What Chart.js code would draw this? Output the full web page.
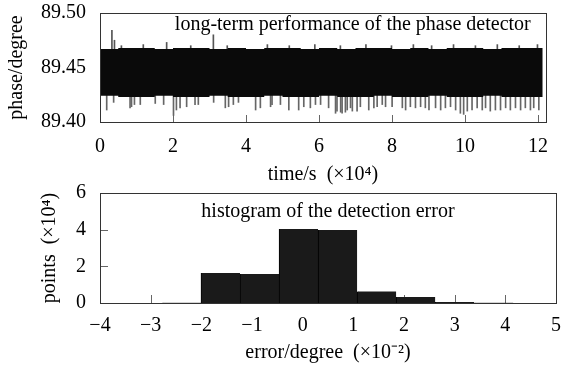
<!DOCTYPE html>
<html>
<head>
<meta charset="utf-8">
<script src="https://cdn.jsdelivr.net/npm/chart.js@4.4.0/dist/chart.umd.min.js"></script>
<style>
  body { margin: 0; background: #fff; }
  #wrap { position: relative; width: 561px; height: 371px; }
  #wrap canvas { position: absolute; left: 0; top: 0; }
</style>
</head>
<body>
<div id="wrap">
  <canvas id="timeChart" width="561" height="371"></canvas>
  <canvas id="histChart" width="561" height="371"></canvas>
</div>
<script>
// ---- top panel: phase over time (x in 1e4 s) ----
const timeTicks = [0, 2, 4, 6, 8, 10, 12];
const phaseTicks = [89.40, 89.45, 89.50];

// envelope of the dense noise band, read every 0.5 (x1e4 s)
const bandT = [0, 0.5, 1, 1.5, 2, 2.5, 3, 3.5, 4, 4.5, 5, 5.5, 6, 6.5, 7, 7.5, 8, 8.5, 9, 9.5, 10, 10.5, 11, 11.5, 12, 12.13];
const bandHigh = [89.468, 89.467, 89.468, 89.468, 89.467, 89.468, 89.468, 89.467, 89.468, 89.467, 89.468, 89.468, 89.467,
                  89.468, 89.467, 89.468, 89.468, 89.467, 89.468, 89.467, 89.468, 89.468, 89.467, 89.468, 89.468, 89.468];
const bandLow = [89.423, 89.424, 89.423, 89.423, 89.424, 89.423, 89.423, 89.424, 89.423, 89.423, 89.424, 89.423, 89.423,
                 89.424, 89.423, 89.423, 89.424, 89.423, 89.423, 89.424, 89.423, 89.423, 89.424, 89.423, 89.423, 89.423];

// single outliers sticking out of the band
const upSpikeT = [0.34, 0.41, 0.6, 1.2, 1.84, 2.5, 3.12, 3.5, 4.6, 5.2, 5.9, 6.6, 7.3, 8.0, 8.6, 9.1, 9.7, 10.3, 10.9, 11.5, 12.0];
const upSpikeV = [89.484, 89.475, 89.470, 89.471, 89.473, 89.470, 89.480, 89.470, 89.471, 89.470, 89.471,
                  89.470, 89.471, 89.470, 89.471, 89.470, 89.471, 89.470, 89.471, 89.470, 89.471];
const downSpikeT = [0.17, 0.36, 0.81, 0.85, 0.93, 1.09, 1.50, 1.73, 2.00, 2.08, 2.18, 2.36, 2.59, 2.68, 3.10, 3.42, 3.51, 3.64, 3.78,
  4.25, 4.38, 4.66, 4.70, 4.93, 5.16, 5.43, 5.57, 5.75, 5.89, 6.03, 6.25, 6.44, 6.48, 6.58, 6.62, 6.71, 6.76, 6.85, 6.90,
  7.03, 7.12, 7.35, 7.49, 7.58, 7.72, 7.81, 7.99,
  8.27, 8.36, 8.49, 8.63, 8.77, 8.90, 9.00, 9.18, 9.32, 9.45, 9.59, 9.73, 9.86, 9.95, 10.05, 10.18, 10.32, 10.46, 10.55,
  10.68, 10.82, 10.96, 11.10, 11.23, 11.37, 11.51, 11.64, 11.78, 11.87, 12.01];
const downSpikeV = [89.411, 89.418, 89.413, 89.414, 89.416, 89.416, 89.417, 89.416, 89.406, 89.411, 89.413, 89.414, 89.416,
  89.416, 89.418, 89.413, 89.414, 89.416, 89.418,
  89.411, 89.413, 89.414, 89.416, 89.416, 89.411, 89.411, 89.414, 89.413, 89.416, 89.416, 89.413, 89.408, 89.410, 89.409,
  89.408, 89.409, 89.411, 89.413, 89.410, 89.410, 89.414, 89.411, 89.413, 89.414, 89.416, 89.414, 89.414,
  89.413, 89.411, 89.414, 89.413, 89.414, 89.413, 89.411, 89.413, 89.411, 89.413, 89.414, 89.411, 89.408, 89.407, 89.410,
  89.411, 89.413, 89.411, 89.413, 89.410, 89.411, 89.411, 89.413, 89.411, 89.413, 89.411, 89.413, 89.411, 89.413, 89.411];

// ---- bottom panel: histogram of the error (x in 1e-2 degree, y in 1e4 points) ----
const errorTicks = [-4, -3, -2, -1, 0, 1, 2, 3, 4, 5];
const countTicks = [0, 2, 4, 6];
const binCenters = [-2.392, -1.622, -0.852, -0.081, 0.690, 1.460, 2.231, 3.001, 3.771];
const binCounts = [0.02, 1.64, 1.58, 4.04, 3.98, 0.63, 0.33, 0.05, 0.02];

const FONT = '"Liberation Serif", "Times New Roman", serif';
Chart.defaults.font.family = FONT;
Chart.defaults.font.size = 20;
Chart.defaults.color = '#000';

// frame box, inward tick marks and the text inside the plot
const framePlugin = {
  id: 'frame',
  beforeDatasetsDraw(chart, args, opts) {
    const ctx = chart.ctx;
    const { left, bottom } = chart.chartArea;
    ctx.save();
    ctx.strokeStyle = '#666';
    ctx.lineWidth = 1;
    chart.scales.x.ticks.forEach(t => {
      const px = Math.round(chart.scales.x.getPixelForValue(t.value)) + 0.5;
      ctx.beginPath(); ctx.moveTo(px, bottom); ctx.lineTo(px, bottom - opts.tick); ctx.stroke();
    });
    chart.scales.y.ticks.forEach(t => {
      const py = Math.round(chart.scales.y.getPixelForValue(t.value)) + 0.5;
      ctx.beginPath(); ctx.moveTo(left, py); ctx.lineTo(left + opts.tick, py); ctx.stroke();
    });
    ctx.restore();
  },
  afterDatasetsDraw(chart, args, opts) {
    const ctx = chart.ctx;
    const a = chart.chartArea;
    ctx.save();
    ctx.strokeStyle = '#333';
    ctx.lineWidth = 1;
    ctx.strokeRect(a.left + 0.5, a.top + 0.5, a.right - a.left, a.bottom - a.top);
    ctx.font = '20px ' + FONT;
    ctx.fillStyle = '#000';
    ctx.textBaseline = 'middle';
    ctx.textAlign = 'left';
    ctx.fillText(opts.text, chart.scales.x.getPixelForValue(opts.x), chart.scales.y.getPixelForValue(opts.y));
    ctx.restore();
  }
};

function fixWidth(w) {
  return s => { s.width = w; s.paddingTop = 0; s.paddingBottom = 0; };
}
function fixHeight(h) {
  return s => { s.height = h; s.paddingLeft = 0; s.paddingRight = 0; };
}

// Top chart
const timeChart = new Chart(document.getElementById('timeChart'), {
  type: 'line',
  data: {
    datasets: [{
      label: 'band high',
      data: bandT.map((t, i) => ({ x: t, y: bandHigh[i] })),
      stepped: 'after',
      borderWidth: 0,
      backgroundColor: '#0a0a0a',
      pointRadius: 0,
      fill: '+1'
    }, {
      label: 'band low',
      data: bandT.map((t, i) => ({ x: t, y: bandLow[i] })),
      stepped: 'after',
      borderWidth: 0,
      pointRadius: 0,
      fill: false
    }, {
      type: 'bar',
      label: 'up spikes',
      data: upSpikeT.map((t, i) => ({ x: t, y: [89.445, upSpikeV[i]] })),
      backgroundColor: '#555',
      barThickness: 1
    }, {
      type: 'bar',
      label: 'down spikes',
      data: downSpikeT.map((t, i) => ({ x: t, y: [downSpikeV[i], 89.445] })),
      backgroundColor: '#666',
      barThickness: 1
    }]
  },
  options: {
    responsive: false,
    animation: false,
    layout: { padding: { left: 0, top: 13, right: 15, bottom: 184 } },
    scales: {
      x: {
        type: 'linear', min: 0, max: 12.22, offset: false,
        afterFit: fixHeight(65),
        afterBuildTicks: s => { s.ticks = timeTicks.map(v => ({ value: v })); },
        ticks: { includeBounds: false, padding: 13, maxRotation: 0, autoSkip: false },
        grid: { display: false, drawTicks: false, offset: false },
        border: { display: false },
        title: { display: true, text: 'time/s  (×10⁴)', padding: { top: 0, bottom: 0 } }
      },
      y: {
        min: 89.40, max: 89.50,
        afterFit: fixWidth(100),
        afterBuildTicks: s => { s.ticks = phaseTicks.map(v => ({ value: v })); },
        ticks: { padding: 14, callback: v => v.toFixed(2) },
        grid: { display: false, drawTicks: false },
        border: { display: false },
        title: { display: true, text: 'phase/degree', padding: { top: 5, bottom: 0 } }
      }
    },
    plugins: {
      legend: { display: false },
      tooltip: { enabled: false },
      frame: { tick: 7, text: 'long-term performance of the phase detector', x: 2.05, y: 89.489 }
    }
  },
  plugins: [framePlugin]
});

// Bottom chart
const histChart = new Chart(document.getElementById('histChart'), {
  type: 'bar',
  data: {
    datasets: [{
      label: 'points',
      data: binCenters.map((c, i) => ({ x: c, y: binCounts[i] })),
      backgroundColor: '#1a1a1a',
      borderColor: '#000',
      borderWidth: { left: 1, top: 0, right: 0, bottom: 0 },
      borderSkipped: false,
      barPercentage: 1,
      categoryPercentage: 1
    }]
  },
  options: {
    responsive: false,
    animation: false,
    layout: { padding: { left: 0, top: 193, right: 5, bottom: 6 } },
    scales: {
      x: {
        type: 'linear', min: -4, max: 5, offset: false,
        afterFit: fixHeight(62),
        afterBuildTicks: s => { s.ticks = errorTicks.map(v => ({ value: v })); },
        ticks: { padding: 11, maxRotation: 0, autoSkip: false,
                 callback: v => v < 0 ? '\u2212' + Math.abs(v) : String(v) },
        grid: { display: false, drawTicks: false, offset: false },
        border: { display: false },
        title: { display: true, text: 'error/degree  (×10⁻²)', padding: { top: 0, bottom: 0 } }
      },
      y: {
        min: 0, max: 6,
        afterFit: fixWidth(100),
        afterBuildTicks: s => { s.ticks = countTicks.map(v => ({ value: v })); },
        ticks: { padding: 14 },
        grid: { display: false, drawTicks: false },
        border: { display: false },
        title: { display: true, text: 'points  (×10⁴)', padding: { top: 38, bottom: 0 } }
      }
    },
    plugins: {
      legend: { display: false },
      tooltip: { enabled: false },
      frame: { tick: 8, text: 'histogram of the detection error', x: -2, y: 5 }
    }
  },
  plugins: [framePlugin]
});
</script>
</body>
</html>
